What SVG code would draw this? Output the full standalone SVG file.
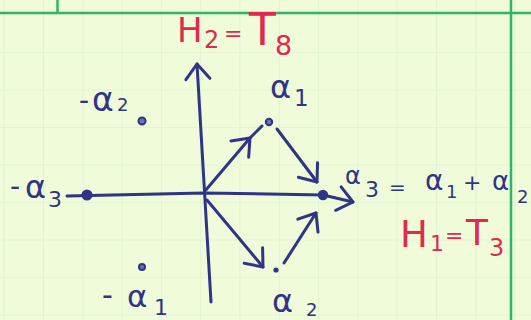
<svg xmlns="http://www.w3.org/2000/svg" width="531" height="320" viewBox="0 0 531 320">
<style>
.ink{stroke:#2f3486;stroke-width:3;fill:none;stroke-linecap:round;stroke-linejoin:round}
.lbl{fill:#2f3486;font-family:"DejaVu Sans","Liberation Sans",sans-serif}
.red{fill:#e1284f;font-family:"DejaVu Sans","Liberation Sans",sans-serif}
.dot{fill:#2f3486}
.ring{fill:#6d72b4;stroke:#2f3486;stroke-width:2}
.bold{stroke:#30b46c;stroke-width:2.5}
</style>
<defs>
<pattern id="grid" patternUnits="userSpaceOnUse" x="43" y="14.5" width="39.3" height="37.5">
<path d="M0,0 L0,37.5 M0,0 L39.3,0" stroke="#d6efcf" stroke-width="1.2" fill="none"/>
</pattern>
<marker id="head" markerUnits="userSpaceOnUse" viewBox="-20 -15 24 30" refX="0" refY="0" markerWidth="24" markerHeight="30" orient="auto" overflow="visible">
<path d="M-15,-12 L0,0 L-15,12" stroke="#2f3486" stroke-width="3" fill="none" stroke-linecap="round" stroke-linejoin="round"/>
</marker>
</defs>
<rect width="531" height="320" fill="#effbd9"/>
<rect width="531" height="320" fill="url(#grid)"/>
<g id="paper-lines">
<line class="bold" x1="0" y1="13" x2="531" y2="13"/>
<line class="bold" x1="57.5" y1="0" x2="57.5" y2="13"/>
<line class="bold" x1="511" y1="0" x2="511" y2="320"/>
</g>
<g id="connectors">
<path id="axis-h" class="ink" d="M67,196 L204,193 L323,195 L353,202" marker-end="url(#head)"/>
<path id="axis-v" class="ink" d="M211,302 L197,64" marker-end="url(#head)"/>
<path id="o-a1" class="ink" d="M205,191 L250,138 L262,126" marker-mid="url(#head)"/>
<path id="a1-a3" class="ink" d="M277,129 L317,182" marker-end="url(#head)"/>
<path id="o-a2" class="ink" d="M207,200 L263,267" marker-end="url(#head)"/>
<path id="a2-a3" class="ink" d="M284,263 L316,213" marker-end="url(#head)"/>
</g>
<g id="H2">
<text class="red"><tspan x="177" y="42" font-size="34">H</tspan><tspan x="204" y="48" font-size="24">2</tspan><tspan x="224" y="41" font-size="22">=</tspan><tspan x="249" y="45" font-size="44">T</tspan><tspan x="275" y="55" font-size="27">8</tspan></text>
</g>
<g id="H1">
<text class="red"><tspan x="400" y="247" font-size="37">H</tspan><tspan x="430" y="251" font-size="22">1</tspan><tspan x="445" y="243" font-size="22">=</tspan><tspan x="466" y="245" font-size="36">T</tspan><tspan x="489" y="256" font-size="24">3</tspan></text>
</g>
<g id="alpha1">
<circle class="ring" cx="269" cy="122" r="3.2"/>
<text class="lbl"><tspan x="270" y="98" font-size="32">α</tspan><tspan x="294" y="106" font-size="23">1</tspan></text>
</g>
<g id="alpha2">
<circle class="dot" cx="276" cy="270" r="2.6"/>
<text class="lbl"><tspan x="272" y="312" font-size="32">α</tspan><tspan x="306" y="316" font-size="18">2</tspan></text>
</g>
<g id="alpha3">
<circle class="dot" cx="323" cy="195" r="5.2"/>
<text class="lbl"><tspan x="345" y="184" font-size="24">α</tspan><tspan x="365" y="197" font-size="22">3</tspan><tspan x="389" y="194" font-size="20">=</tspan><tspan x="425" y="190" font-size="28">α</tspan><tspan x="446" y="198" font-size="18">1</tspan><tspan x="463" y="190" font-size="22">+</tspan><tspan x="492" y="190" font-size="26">α</tspan><tspan x="517" y="203" font-size="18">2</tspan></text>
</g>
<g id="neg-alpha1">
<circle class="ring" cx="142" cy="267" r="3"/>
<text class="lbl"><tspan x="102" y="305" font-size="30">-</tspan><tspan x="127" y="307" font-size="31">α</tspan><tspan x="154" y="315" font-size="22">1</tspan></text>
</g>
<g id="neg-alpha2">
<circle class="ring" cx="142" cy="121" r="3.5"/>
<text class="lbl"><tspan x="79" y="110" font-size="28">-</tspan><tspan x="92" y="111" font-size="33">α</tspan><tspan x="117" y="111" font-size="18">2</tspan></text>
</g>
<g id="neg-alpha3">
<circle class="dot" cx="87" cy="195" r="5.5"/>
<text class="lbl"><tspan x="10" y="196" font-size="28">-</tspan><tspan x="25" y="198" font-size="32">α</tspan><tspan x="48" y="207" font-size="22">3</tspan></text>
</g>
</svg>
